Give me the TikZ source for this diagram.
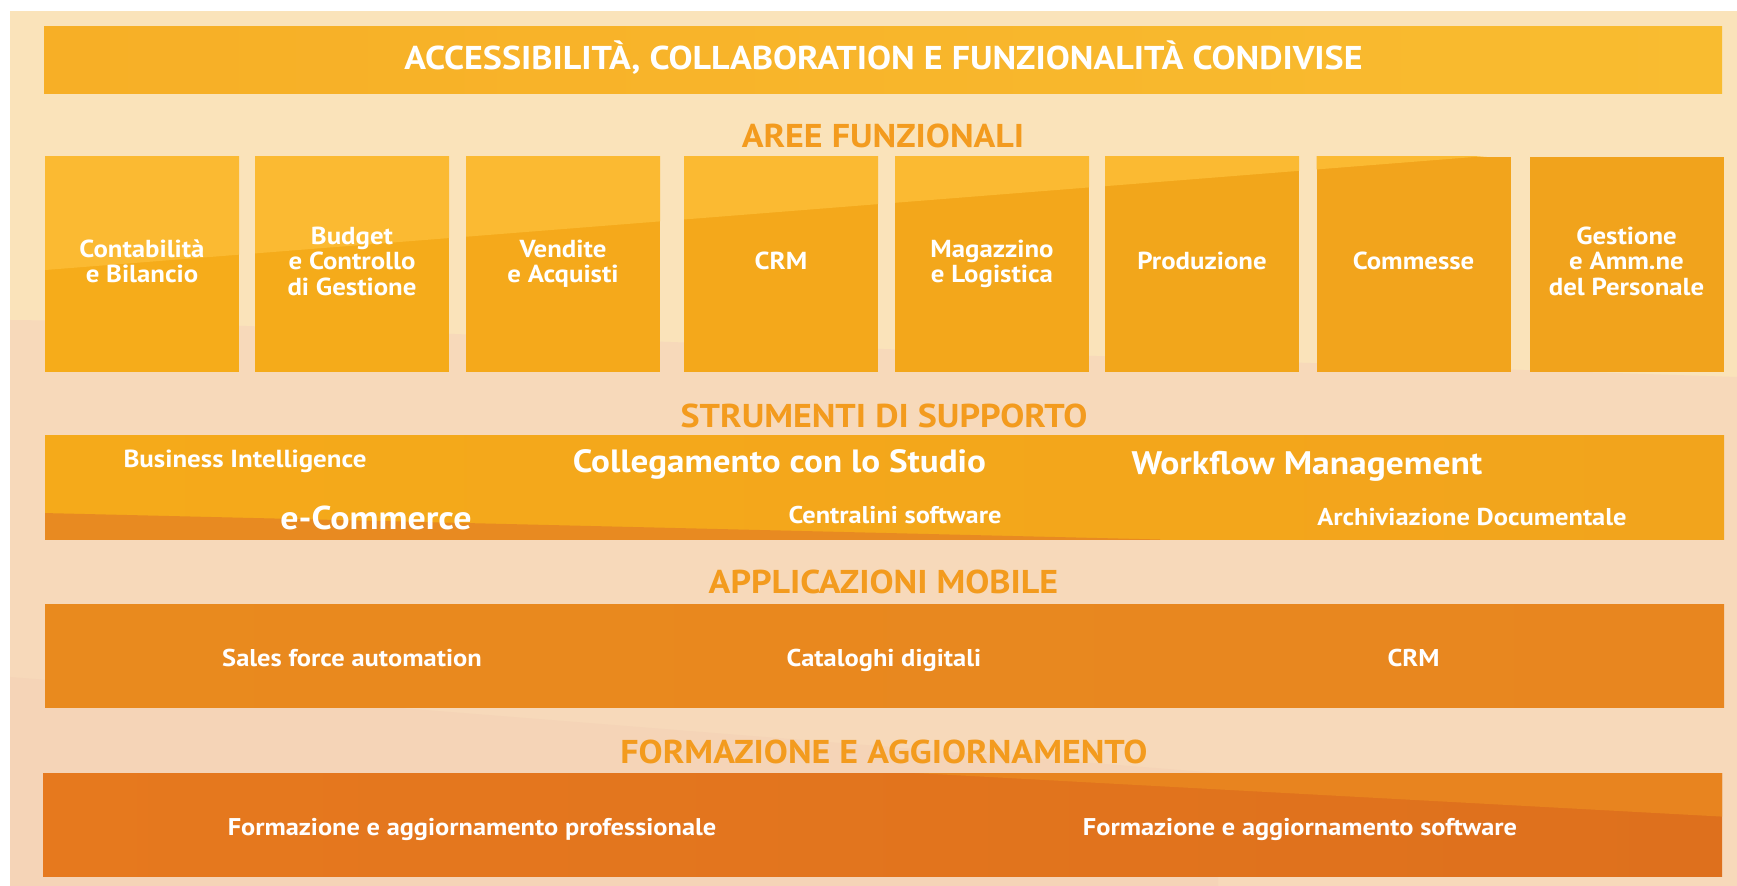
\documentclass[tikz,border=0pt]{standalone}
\usepackage{fontspec}
\setmainfont{PT Sans}[FakeStretch=1.09]
\definecolor{bgcream}{HTML}{FAE3BA}
\definecolor{bgpeach}{HTML}{F7D9BA}
\definecolor{bgpeachdark}{HTML}{F5D4B7}
\definecolor{topL}{HTML}{F7AF26}
\definecolor{topR}{HTML}{F9BC30}
\definecolor{headorange}{HTML}{F39B1E}
\definecolor{boxlight}{HTML}{FBBA32}
\definecolor{boxL}{HTML}{F6AC1A}
\definecolor{boxR}{HTML}{F1A31C}
\definecolor{supL}{HTML}{F5AA1A}
\definecolor{supR}{HTML}{F2A41C}
\definecolor{supwedge}{HTML}{E88A21}
\definecolor{mobL}{HTML}{E98A1E}
\definecolor{mobR}{HTML}{E8861F}
\definecolor{formL}{HTML}{E6791E}
\definecolor{formR}{HTML}{DE701D}
\definecolor{formlight}{HTML}{E8841F}
\begin{document}
\begin{tikzpicture}[x=0.5pt,y=-0.5pt,
  every node/.style={inner sep=0pt, outer sep=0pt},
  band/.style={rectangle, minimum width=839.5pt, minimum height=51.7pt},
  area/.style={rectangle, minimum width=97pt, minimum height=107.5pt, fill=#1,
    text=white, align=center, text depth=3.3pt,
    font=\bfseries\fontsize{12.3}{12.9}\selectfont,
    path picture={\fill[boxlight] (L1) -- (L2) -- (U2) -- (U1) -- cycle;}},
  head/.style={anchor=base, text=headorange, font=\bfseries\fontsize{16.5}{18}\selectfont},
  lbl/.style={anchor=base, text=white, font=\bfseries\fontsize{#1}{#1}\selectfont}
]
\useasboundingbox (0,0) rectangle (1737,886);
% background
\fill[bgcream] (10,11) rectangle (1737,886);
\fill[bgpeach] (10,320) .. controls (200,322) and (400,333) .. (700,343) -- (1737,377) -- (1737,886) -- (10,886) -- cycle;
\fill[bgpeachdark] (10,677) -- (1218,773) -- (1218,886) -- (10,886) -- cycle;

% helper coordinates for the diagonal tints
\coordinate (L1) at (0,273.6);
\coordinate (L2) at (1737,136.2);
\coordinate (U1) at (0,0);
\coordinate (U2) at (1737,0);
\coordinate (W1) at (0,512);
\coordinate (W2) at (1160,539.5);
\coordinate (W3) at (1160,600);
\coordinate (W4) at (0,600);
\coordinate (F1) at (900,772.2);
\coordinate (F2) at (1737,817.4);
\coordinate (F3) at (1737,700);
\coordinate (F4) at (900,700);

% top band
\node[band, minimum width=839pt, minimum height=33.5pt, left color=topL, right color=topR] (top) at (883,60.5) {};
\node[lbl=16.5] (title) at (883.5,70) {ACCESSIBILITÀ, COLLABORATION E FUNZIONALITÀ CONDIVISE};

% aree funzionali
\node[head] (h1) at (883,148) {AREE FUNZIONALI};
\node[area=boxL] (a1) at (142,264.5) {Contabilità\\e Bilancio};
\node[area=boxL!86!boxR] (a2) at (352,264.5) {Budget\\e Controllo\\di Gestione};
\node[area=boxL!71!boxR] (a3) at (563,264.5) {Vendite\\e Acquisti};
\node[area=boxL!57!boxR] (a4) at (781,264.5) {CRM};
\node[area=boxL!43!boxR] (a5) at (992,264.5) {Magazzino\\e Logistica};
\node[area=boxL!29!boxR] (a6) at (1202,264.5) {Produzione};
\node[area=boxL!14!boxR] (a7) at (1413.5,264.5) {Commesse};
\node[area=boxR] (a8) at (1626.5,264.5) {Gestione\\e Amm.ne\\del Personale};

% strumenti di supporto
\node[head] (h2) at (884,427.7) {STRUMENTI DI SUPPORTO};
\node[band, left color=supL, right color=supR,
  path picture={\fill[supwedge] (W1) -- (W2) -- (W3) -- (W4) -- cycle;}] (sup) at (884.5,487.5) {};
\node[lbl=12.35] (bi) at (245,467.3) {Business Intelligence};
\node[lbl=16.1] (cs) at (779.4,473) {Collegamento con lo Studio};
\node[lbl=16.3] (wm) at (1307,475) {Workflow Management};
\node[lbl=16.5] (ec) at (376,529.3) {e-Commerce};
\node[lbl=12.1] (cl) at (895,523.3) {Centralini software};
\node[lbl=12.15] (ad) at (1472,526) {Archiviazione Documentale};

% applicazioni mobile
\node[head] (h3) at (883.5,593.3) {APPLICAZIONI MOBILE};
\node[band, left color=mobL, right color=mobR] (mob) at (884.5,656) {};
\node[lbl=12.15] (sfa) at (352,666.5) {Sales force automation};
\node[lbl=12.15] (cat) at (884,666.5) {Cataloghi digitali};
\node[lbl=12.15] (crm) at (1413.5,666.5) {CRM};

% formazione
\node[head] (h4) at (884,763.3) {FORMAZIONE E AGGIORNAMENTO};
\node[band, left color=formL, right color=formR,
  path picture={\fill[formlight] (F1) -- (F2) -- (F3) -- (F4) -- cycle;}] (form) at (882.5,825) {};
\node[lbl=12.1] (fp) at (472,836) {Formazione e aggiornamento professionale};
\node[lbl=12.1] (fs) at (1300,836) {Formazione e aggiornamento software};
\end{tikzpicture}
\end{document}
